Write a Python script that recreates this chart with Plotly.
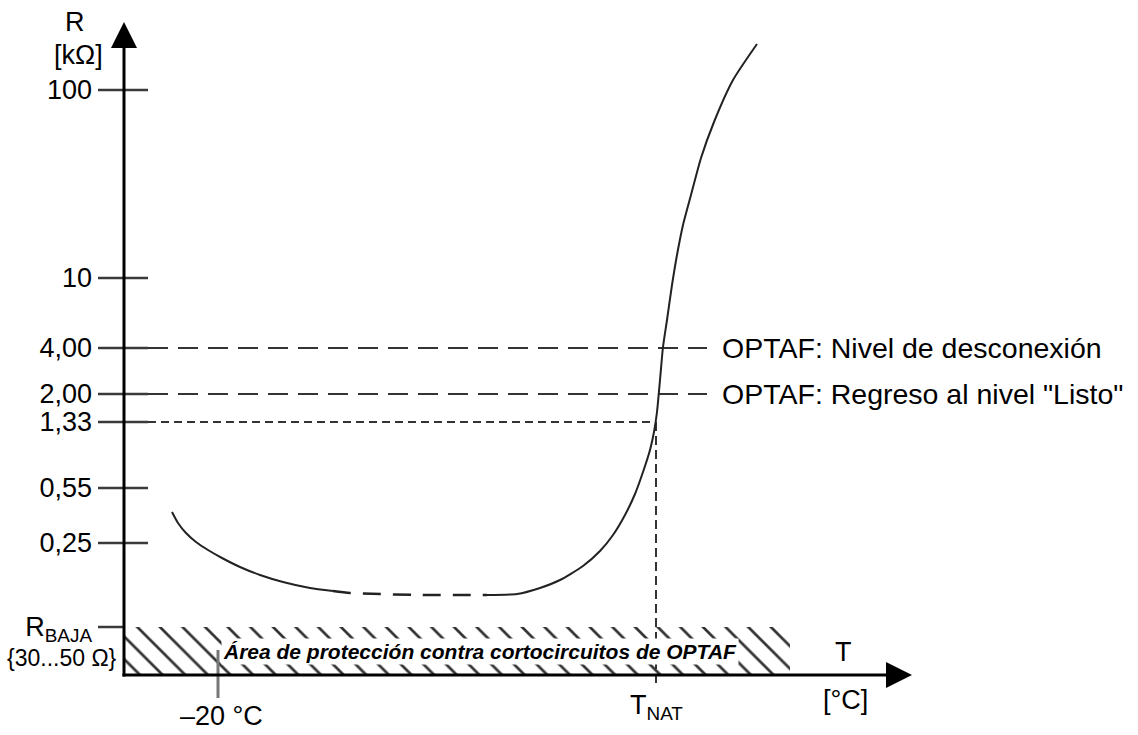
import plotly.graph_objects as go

# ---------------- data (schematic units: 1 unit along each axis) ----------------
# R axis: schematic tick positions (height above T axis) and their labels
r_tick_pos = [48, 132, 187, 253, 281, 327, 397, 585]
r_tick_text = ["R<sub>BAJA</sub>", "0,25", "0,55", "1,33", "2,00", "4,00", "10", "100"]

# T axis ticks
t_tick_pos = [94, 532]
t_tick_text = ["–20 °C", "T<sub>NAT</sub>"]

# PTC resistance curve (T position, R position)
curve_T = [48, 54, 62, 72, 84, 98, 116, 136, 159, 186, 209,
           226, 296, 363,
           393, 416, 436, 459, 476, 489, 501, 511, 519, 526, 530, 533, 536, 539,
           543, 548, 553, 559, 567, 577, 590, 609, 633]
curve_R = [163, 152, 142, 133, 125, 117, 108, 100, 93, 87, 84,
           82, 80, 80,
           81, 87, 95, 109, 124, 140, 160, 181, 203, 225, 243, 263, 295, 328,
           355, 390, 420, 450, 480, 517, 553, 595, 631]
flat_start_T = 209
flat_end_T = 363

# OPTAF thresholds
threshold_levels = [327, 281]   # 4,00 and 2,00
threshold_labels = ['OPTAF: Nivel de desconexión', 'OPTAF: Regreso al nivel "Listo"']
ready_level = 253               # 1,33
t_nat = 532
hatch_T = [0, 666]
r_baja = 48

# axis extents
T_MAX = 788
R_MAX = 653

FONT = "Liberation Sans, Arial, sans-serif"
INK = "#222222"

fig = go.Figure()

# hatched short-circuit protection area
fig.add_trace(go.Scatter(
    x=[hatch_T[0], hatch_T[1], hatch_T[1], hatch_T[0], hatch_T[0]],
    y=[0, 0, r_baja, r_baja, 0],
    mode="lines", fill="toself", line=dict(width=0),
    fillcolor="white",
    fillpattern=dict(shape="\\", size=16, solidity=0.17, fgcolor="#333333",
                     bgcolor="white", fillmode="replace"),
    hoverinfo="skip"))

# tick marks on R axis (crossing the axis)
tx, ty = [], []
for p in r_tick_pos:
    tx += [-26, 0 if p == r_baja else 24, None]
    ty += [p, p, None]
fig.add_trace(go.Scatter(x=tx, y=ty, mode="lines",
                         line=dict(color="#3a3a3a", width=2.5), hoverinfo="skip"))

# threshold dashed lines
for lvl in threshold_levels:
    fig.add_trace(go.Scatter(x=[24, 583], y=[lvl, lvl], mode="lines",
                             line=dict(color="#333333", width=2, dash="20px,10px"),
                             hoverinfo="skip"))
fig.add_trace(go.Scatter(x=[24, t_nat - 6], y=[ready_level, ready_level], mode="lines",
                         line=dict(color="#333333", width=2, dash="8px,5px"),
                         hoverinfo="skip"))
# vertical dotted at T_NAT
fig.add_trace(go.Scatter(x=[t_nat, t_nat], y=[ready_level, 0], mode="lines",
                         line=dict(color="#333333", width=2, dash="9px,5px"),
                         hoverinfo="skip"))

# T axis ticks
fig.add_trace(go.Scatter(x=[t_tick_pos[0], t_tick_pos[0]], y=[25, -23], mode="lines",
                         line=dict(color="#777777", width=3), hoverinfo="skip"))
fig.add_trace(go.Scatter(x=[t_tick_pos[1], t_tick_pos[1]], y=[0, -8], mode="lines",
                         line=dict(color="#333333", width=2), hoverinfo="skip"))

# curve: solid / dashed flat part / solid
i0 = curve_T.index(flat_start_T)
i1 = curve_T.index(flat_end_T)
fig.add_trace(go.Scatter(x=curve_T[:i0 + 1], y=curve_R[:i0 + 1], mode="lines",
                         line=dict(color=INK, width=2, shape="spline", smoothing=0.6),
                         hoverinfo="skip"))
fig.add_trace(go.Scatter(x=curve_T[i0:i1 + 1], y=curve_R[i0:i1 + 1], mode="lines",
                         line=dict(color=INK, width=2.5, dash="18px,12px",
                                   shape="spline", smoothing=0.6),
                         hoverinfo="skip"))
fig.add_trace(go.Scatter(x=curve_T[i1:], y=curve_R[i1:], mode="lines",
                         line=dict(color=INK, width=2, shape="spline", smoothing=0.6),
                         hoverinfo="skip"))

# axes (lines + arrowheads)
fig.add_trace(go.Scatter(x=[-1.5, T_MAX - 10], y=[0, 0], mode="lines",
                         line=dict(color="black", width=3), hoverinfo="skip"))
fig.add_trace(go.Scatter(x=[0, 0], y=[-1.5, R_MAX - 10], mode="lines",
                         line=dict(color="black", width=3), hoverinfo="skip"))
fig.add_trace(go.Scatter(x=[T_MAX, 0], y=[0, R_MAX], mode="markers",
                         marker=dict(symbol=["arrow-right", "arrow-up"], size=26,
                                     color="black", line=dict(width=0)),
                         cliponaxis=False, hoverinfo="skip"))

annotations = []
big = dict(family=FONT, size=27, color="black")
# axis titles
annotations.append(dict(x=0, y=R_MAX, xshift=-49, text="R", showarrow=False, font=big))
annotations.append(dict(x=0, y=R_MAX, xshift=-46, yshift=-33, text="[kΩ]",
                        showarrow=False, font=big))
annotations.append(dict(x=719, y=0, yshift=23, text="T", showarrow=False, font=big))
annotations.append(dict(x=721, y=0, yshift=-25, text="[°C]", showarrow=False, font=big))
# R_BAJA range note
annotations.append(dict(x=0, y=r_baja, xshift=-5, yshift=-31, xanchor="right",
                        text="{30...50 Ω}", showarrow=False,
                        font=dict(family=FONT, size=23, color="black")))
# T axis tick labels
annotations.append(dict(x=t_tick_pos[0], y=0, yshift=-41, xshift=3, text=t_tick_text[0],
                        showarrow=False, font=big))
annotations.append(dict(x=t_tick_pos[1], y=0, yshift=-32, text=t_tick_text[1],
                        showarrow=False, font=big))
# threshold labels
for lvl, lab in zip(threshold_levels, threshold_labels):
    annotations.append(dict(x=596, y=lvl, xanchor="left", text=lab, showarrow=False,
                            font=dict(family=FONT, size=28.5, color="black")))
# protection area label
annotations.append(dict(x=356, y=r_baja / 2, text="<b><i>Área de protección contra cortocircuitos de OPTAF</i></b>",
                        showarrow=False, bgcolor="white", borderpad=1,
                        font=dict(family=FONT, size=21, color="black")))

fig.update_layout(
    width=1138, height=735,
    margin=dict(l=98, r=226, t=22, b=35),
    paper_bgcolor="white", plot_bgcolor="white",
    showlegend=False,
    xaxis=dict(range=[-26, T_MAX], visible=False, fixedrange=True),
    yaxis=dict(range=[-25, R_MAX], tickvals=r_tick_pos, ticktext=r_tick_text,
               ticks="", showgrid=False, zeroline=False, showline=False,
               ticklabelstandoff=5, tickfont=big, fixedrange=True),
    annotations=annotations,
)

fig.write_html("out.html", config={"displayModeBar": False},
               post_script="document.body.style.margin='0px';document.body.style.overflow='hidden';")
